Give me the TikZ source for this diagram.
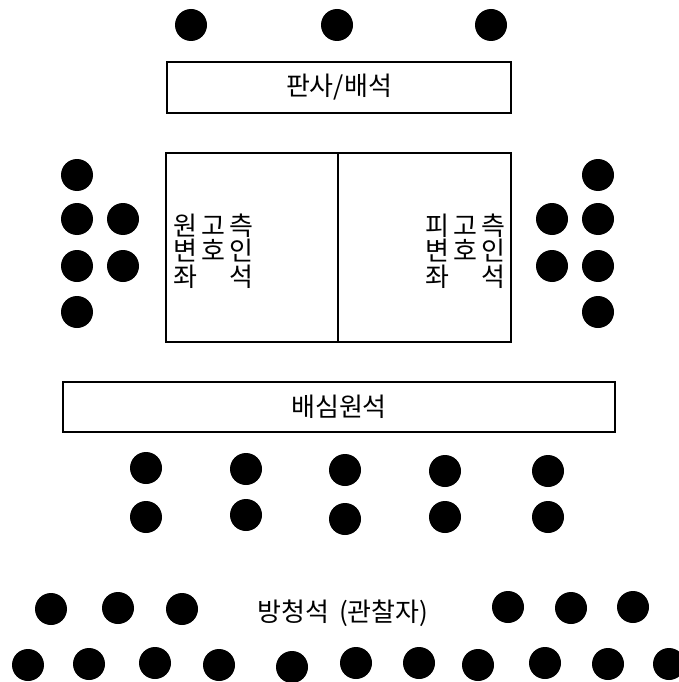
\documentclass[tikz,border=0pt]{standalone}
\usepackage{fontspec}
\setmainfont{Noto Sans CJK KR}
\newcommand{\cc}[1]{\makebox[28pt][c]{#1}}
\begin{document}
\begin{tikzpicture}[x=1pt,y=-1pt,
  seat/.style={circle,fill=black,inner sep=0pt,minimum size=32pt},
  bench/.style={draw=black,line width=2.4pt,rectangle,inner sep=0pt,font=\fontsize{26}{30}\selectfont},
  lbl/.style={inner sep=0pt,font=\fontsize{26}{25.5}\selectfont,align=left}]
\useasboundingbox (0,0) rectangle (678,682);
% judges
\node[seat] (j1) at (191,25) {};
\node[seat] (j2) at (337,25) {};
\node[seat] (j3) at (491,25) {};
\node[bench,minimum width=344pt,minimum height=51pt] (judge) at (339,87.5) {\raisebox{-3pt}{판사/배석}};
% counsel tables
\node[bench,minimum width=172pt,minimum height=189pt] (plt) at (252,247.5) {};
\node[bench,minimum width=173pt,minimum height=189pt] (dft) at (424.5,247.5) {};
\node[lbl,anchor=west] (pltxt) at (171,251) {\cc{원}\cc{고}\cc{측}\\\cc{변}\cc{호}\cc{인}\\\cc{좌}\cc{}\cc{석}};
\node[lbl,anchor=west] (dftxt) at (423,251) {\cc{피}\cc{고}\cc{측}\\\cc{변}\cc{호}\cc{인}\\\cc{좌}\cc{}\cc{석}};
% left seats
\node[seat] (l1) at (77,175) {};
\node[seat] (l2) at (77,219) {};
\node[seat] (l3) at (77,266) {};
\node[seat] (l4) at (77,312) {};
\node[seat] (l5) at (123,219) {};
\node[seat] (l6) at (123,266) {};
% right seats
\node[seat] (r1) at (598,175) {};
\node[seat] (r2) at (598,219) {};
\node[seat] (r3) at (598,266) {};
\node[seat] (r4) at (598,312) {};
\node[seat] (r5) at (552,219) {};
\node[seat] (r6) at (552,266) {};
% jury
\node[bench,minimum width=552pt,minimum height=50pt] (jury) at (339,407) {\raisebox{-2pt}{배심원석}};
\node[seat] (a1) at (146,468) {};
\node[seat] (a2) at (246,469) {};
\node[seat] (a3) at (345,470) {};
\node[seat] (a4) at (445,471) {};
\node[seat] (a5) at (548,471) {};
\node[seat] (b1) at (146,517) {};
\node[seat] (b2) at (246,515) {};
\node[seat] (b3) at (345,519) {};
\node[seat] (b4) at (445,517) {};
\node[seat] (b5) at (548,517) {};
% gallery
\node[seat] (g1) at (51,609) {};
\node[seat] (g2) at (118,608) {};
\node[seat] (g3) at (182,609) {};
\node[seat] (g4) at (508,607) {};
\node[seat] (g5) at (571,608) {};
\node[seat] (g6) at (633,607) {};
\node[inner sep=0pt,font=\fontsize{26}{30}\selectfont] (gallery) at (343,613) {방청석\hspace{10pt}(관찰자)};
\node[seat] (h1) at (28,665) {};
\node[seat] (h2) at (89,664) {};
\node[seat] (h3) at (155,663) {};
\node[seat] (h4) at (219,665) {};
\node[seat] (h5) at (292,667) {};
\node[seat] (h6) at (356,663) {};
\node[seat] (h7) at (419,663) {};
\node[seat] (h8) at (478,665) {};
\node[seat] (h9) at (545,663) {};
\node[seat] (h10) at (608,664) {};
\node[seat] (h11) at (669,664) {};
\end{tikzpicture}
\end{document}
